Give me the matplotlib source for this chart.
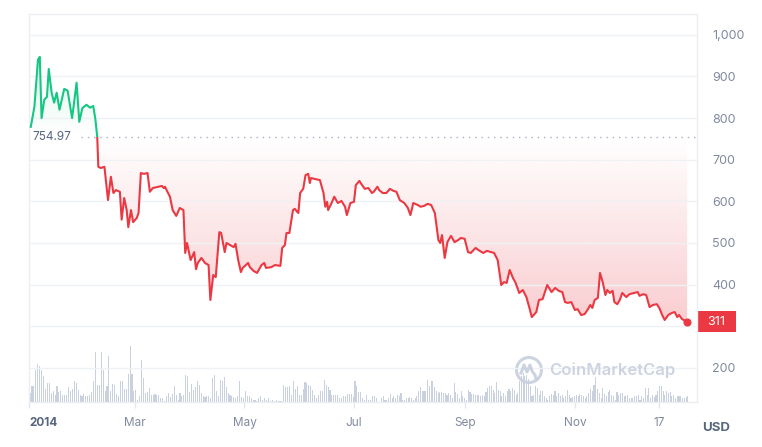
import numpy as np
import matplotlib
matplotlib.use('Agg')
import matplotlib.pyplot as plt
from matplotlib.patches import Rectangle, Circle
from matplotlib.transforms import IdentityTransform

plt.rcParams['font.family'] = ['Inter', 'DejaVu Sans']

# BTC price 2014, x = days since 2014-01-01
price_days = [1, 3, 5, 6, 7, 8.5, 10, 11, 12.6, 14, 15.4, 17, 19.6, 21.5, 24, 26.5, 28, 29.7,
              32, 34, 35.8, 37, 38, 38.6, 40, 42, 44, 45.6, 47, 48.4, 50.6, 51.6, 53, 54.4,
              55.3, 56.8, 58, 60, 61, 62.3, 64, 66, 67.3, 69, 72, 74, 75, 75.7, 78.5, 80, 82,
              84, 86, 87, 88, 90, 92, 93, 94, 96, 98, 100, 101, 102.6, 104, 106, 107, 109,
              110, 112, 114, 115, 116.5, 118, 119, 122, 123, 125, 127, 129.5, 131, 132, 135,
              137, 140, 141, 142.5, 143.4, 145, 147, 148, 149.5, 150, 151, 152.7, 154, 155.5,
              156.4, 157, 159, 162, 164, 165, 166, 166.6, 168.5, 170, 172, 174, 176, 177, 179,
              181, 182, 184, 185, 187, 189, 191, 192, 194, 195, 197, 199, 201, 203, 204.6,
              206.5, 209, 211, 212.4, 214, 216.6, 218, 220, 222, 224, 226, 228, 229, 230,
              231.5, 233, 235, 237, 239, 240.5, 242.6, 244.5, 246, 248.7, 251, 253, 255,
              257.5, 259, 261, 263, 264.5, 266, 267.7, 269.5, 271, 273, 275, 277, 279, 280,
              282.5, 284, 286, 288.6, 291, 293, 295, 297, 298.5, 300, 302, 304, 305.5, 307.5,
              309.4, 311, 312.6, 313.7, 315, 316.8, 318, 319.6, 321, 322, 323.5, 325, 326,
              327.6, 329, 330.4, 332.6, 334.4, 337, 339, 340, 342, 343.7, 345.6, 347.4, 349.6,
              351, 352.6, 354, 356, 358, 359.6, 361, 362, 363.7, 366.5]
price_vals = [779, 827, 940, 947, 800, 844, 851, 918, 861, 837, 861, 820, 870, 866, 800, 885, 791, 824,
              832, 825, 829, 796, 755, 683, 680, 683, 603, 659, 620, 627, 623, 556, 608, 579,
              538, 579, 550, 560, 572, 668, 666, 668, 623, 632, 635, 637, 632, 635, 611, 579, 565,
              584, 579, 476, 500, 459, 478, 437, 452, 464, 452, 447, 363, 423, 418, 526, 524, 478,
              500, 495, 490, 498, 459, 430, 440, 452, 442, 433, 428, 447, 452, 440, 442,
              447, 445, 488, 495, 524, 524, 579, 582, 574, 572, 620, 630, 663, 666,
              644, 656, 654, 651, 620, 587, 599, 579, 596, 611, 596, 601, 587, 567, 596,
              599, 639, 649, 642, 630, 632, 620, 623, 635, 627, 620, 620, 630, 625, 623,
              603, 596, 584, 567, 596, 591, 587, 589, 594, 591, 572, 507, 500, 519,
              464, 502, 517, 502, 507, 512, 510, 478, 476, 488, 481, 476, 481,
              478, 476, 459, 399, 406, 404, 435, 416, 404, 380, 387, 370, 339, 322,
              334, 363, 365, 399, 382, 392, 385, 382, 358, 356, 358, 339, 341, 327,
              329, 339, 351, 344, 363, 368, 428, 404, 375, 387, 380, 385, 358,
              353, 363, 380, 370, 377, 380, 382, 373, 377, 375, 346, 351, 353,
              344, 327, 315, 327, 332, 334, 322, 327, 317, 311]
open_price = 754.97

# relative daily volume (two read-off segments)
vol_a = [9, 16, 16, 32, 38, 36, 32, 26, 13, 19, 19, 9, 11, 7, 16, 10, 11, 7, 7, 7, 15, 11, 13, 21, 19,
         12, 7, 6, 8, 6, 6, 7, 10, 21, 50, 17, 17, 50, 32, 11, 16, 46, 11, 18, 17, 8, 6, 21, 21, 13,
         13, 28, 56, 28, 11, 12, 2, 6, 42, 24, 9, 10, 14, 7, 7, 8, 7, 7, 4, 4, 1, 6, 9, 5, 8, 16, 7,
         2, 9, 6, 7, 27, 26, 10, 18, 12, 15, 21, 17, 9, 6, 5, 6, 6, 4, 24, 27, 11, 6, 22, 21, 25, 15,
         9, 7, 6, 5, 4, 6, 21, 5, 4, 11, 6, 6, 4, 2, 2, 1, 4, 6, 2, 4, 2, 4, 1, 2, 1, 2, 1, 1, 1, 17,
         15, 15, 16, 7, 21, 13, 16, 7, 7, 13, 20, 19, 17, 16, 12, 7, 4, 7, 11, 11, 22, 17, 15, 12,
         7, 7, 7, 7, 4, 4, 6, 6, 8, 8, 8, 5, 21, 16, 10, 10, 4, 2, 7, 2, 2, 6, 6, 4]
vol_b = [4, 6, 2, 2, 4, 8, 4, 6, 4, 7, 6, 9, 2, 2, 4, 4, 5, 4, 2, 4, 6, 11, 15, 11, 11, 11, 22, 16,
         21, 21, 15, 11, 9, 10, 10, 9, 9, 7, 9, 7, 4, 19, 10, 8, 4, 11, 6, 4, 2, 12, 10, 8, 8, 7,
         7, 7, 6, 7, 6, 10, 14, 16, 16, 12, 9, 20, 12, 11, 6, 9, 6, 11, 13, 11, 14, 12, 7, 9, 21,
         26, 29, 26, 27, 23, 16, 6, 7, 16, 14, 7, 11, 11, 6, 4, 2, 6, 8, 7, 11, 6, 9, 6, 7, 4, 6,
         12, 7, 4, 5, 6, 7, 6, 8, 7, 6, 4, 6, 9, 13, 11, 17, 25, 13, 9, 4, 14, 8, 6, 10, 12, 7, 6,
         2, 10, 7, 9, 9, 6, 6, 7, 4, 4, 4, 6, 6, 7, 2, 6, 4, 14, 7, 14, 4, 7, 5, 7, 11, 16, 16, 11,
         7, 11, 9, 10, 6, 7, 4, 6, 6, 6, 4, 4, 5, 6]
vol_a_range = (0.6, 193.3)
vol_b_range = (196.3, 366.9)

tick_days = [0, 59, 120, 181, 243, 304, 351]
tick_labels = ['2014', 'Mar', 'May', 'Jul', 'Sep', 'Nov', '17']
y_ticks = [200, 300, 400, 500, 600, 700, 800, 900, 1000]

GREEN = '#16C784'
RED = '#EA3943'
GRID = '#EFF2F5'
TXT = '#808A9D'

days = np.array(price_days)
vals = np.array(price_vals)
x_max = 372
y_min, y_max = 118, 1050

fig = plt.figure(figsize=(7.62, 4.47), dpi=100)
pos = [29 / 762, 45 / 447, 668 / 762, 388 / 447]

# volume bars underneath
ax_v = fig.add_axes(pos, zorder=0)
vd = np.concatenate([np.linspace(*vol_a_range, len(vol_a)), np.linspace(*vol_b_range, len(vol_b))])
ax_v.bar(vd, vol_a + vol_b, width=0.6, color='#C9D0DE', linewidth=0)
ax_v.set_xlim(0, x_max)
ax_v.set_ylim(0, 388)
ax_v.axis('off')

ax = fig.add_axes(pos, zorder=1)
ax.set_facecolor('none')

# gradient fills clipped to the area between price and open price
poly = ax.fill_between(days, vals, open_price, color='none', linewidth=0)
clip = poly.get_paths()[0]
n = 256
red_img = np.zeros((n, 1, 4))
red_img[..., :3] = matplotlib.colors.to_rgb(RED)
red_img[:, 0, 3] = np.linspace(0.27, 0.0, n)
im_r = ax.imshow(red_img, extent=[0, x_max, 280, open_price], origin='lower', aspect='auto', zorder=1)
im_r.set_clip_path(clip, transform=ax.transData)
grn_img = np.zeros((n, 1, 4))
grn_img[..., :3] = matplotlib.colors.to_rgb(GREEN)
grn_img[:, 0, 3] = np.linspace(0.0, 0.16, n)
im_g = ax.imshow(grn_img, extent=[0, x_max, open_price, 960], origin='lower', aspect='auto', zorder=1)
im_g.set_clip_path(clip, transform=ax.transData)

# price line, green above open, red below
for col, y0, h in [(GREEN, open_price, y_max - open_price), (RED, y_min, open_price - y_min)]:
    ln, = ax.plot(days, vals, color=col, lw=1.5, zorder=3, solid_joinstyle='round')
    ln.set_clip_path(Rectangle((0, y0), x_max, h, transform=ax.transData))

ax.plot([29, x_max], [open_price, open_price], color='#A6B0C3', lw=1, ls=(0, (1, 3.5)), zorder=2)
ax.text(2, open_price, '754.97', color='#58667E', fontsize=8.5, va='center', ha='left', zorder=4)

ax.scatter([days[-1]], [vals[-1]], s=34, color=RED, zorder=5, linewidths=0)

ax.set_xlim(0, x_max)
ax.set_ylim(y_min, y_max)

# the last-price tag covers the 300 label
ax.set_yticks(y_ticks)
ax.set_yticklabels(['' if v == 300 else f'{v:,}' for v in y_ticks])
ax.yaxis.tick_right()
ax.tick_params(axis='y', length=0, pad=11, labelsize=9, labelcolor=TXT)
ax.grid(axis='y', color=GRID, lw=1, zorder=0)

ax.set_xticks(tick_days)
ax.set_xticklabels(tick_labels)
ax.tick_params(axis='x', length=4, width=1, color='#E2E6ED', pad=7, labelsize=8.5, labelcolor=TXT)
lbls = ax.get_xticklabels()
lbls[0].set_ha('left')
lbls[0].set_fontweight('bold')
lbls[0].set_color('#58667E')

for s in ax.spines.values():
    s.set_color('#EBEEF2')
    s.set_linewidth(1)

# last price tag
fig.canvas.draw()
yp = ax.transData.transform((0, vals[-1]))[1]
fig.add_artist(Rectangle((697, yp - 10.5), 39, 21, transform=IdentityTransform(), color=RED, lw=0))
fig.text(716.5 / 762, yp / 447, f'{price_vals[-1]}', color='white', fontsize=9,
         ha='center', va='center')

fig.text(716 / 762, 1 - 428 / 447, 'USD', color='#58667E', fontsize=9.5, fontweight='bold',
         ha='center', va='center')

# watermark
wm = '#C8CFDD'
fig.add_artist(Circle((529, 447 - 370), 12.5, transform=IdentityTransform(), fill=False,
                      ec=wm, lw=2.2, alpha=0.9))
mx = np.array([-8, -5, -2, 1, 3, 6, 7])
my = np.array([-3, 5, -2, 5, -1, -5, -9])
fig.add_artist(plt.Line2D(529 + mx, 447 - 370 + my, transform=IdentityTransform(), color=wm,
                          lw=2.2, alpha=0.9, solid_joinstyle='round'))
fig.text(549 / 762, 1 - 370.5 / 447, 'CoinMarketCap', color=wm, fontsize=12, fontweight='semibold',
         ha='left', va='center', alpha=0.9)

fig.savefig('out.png', dpi=100)
